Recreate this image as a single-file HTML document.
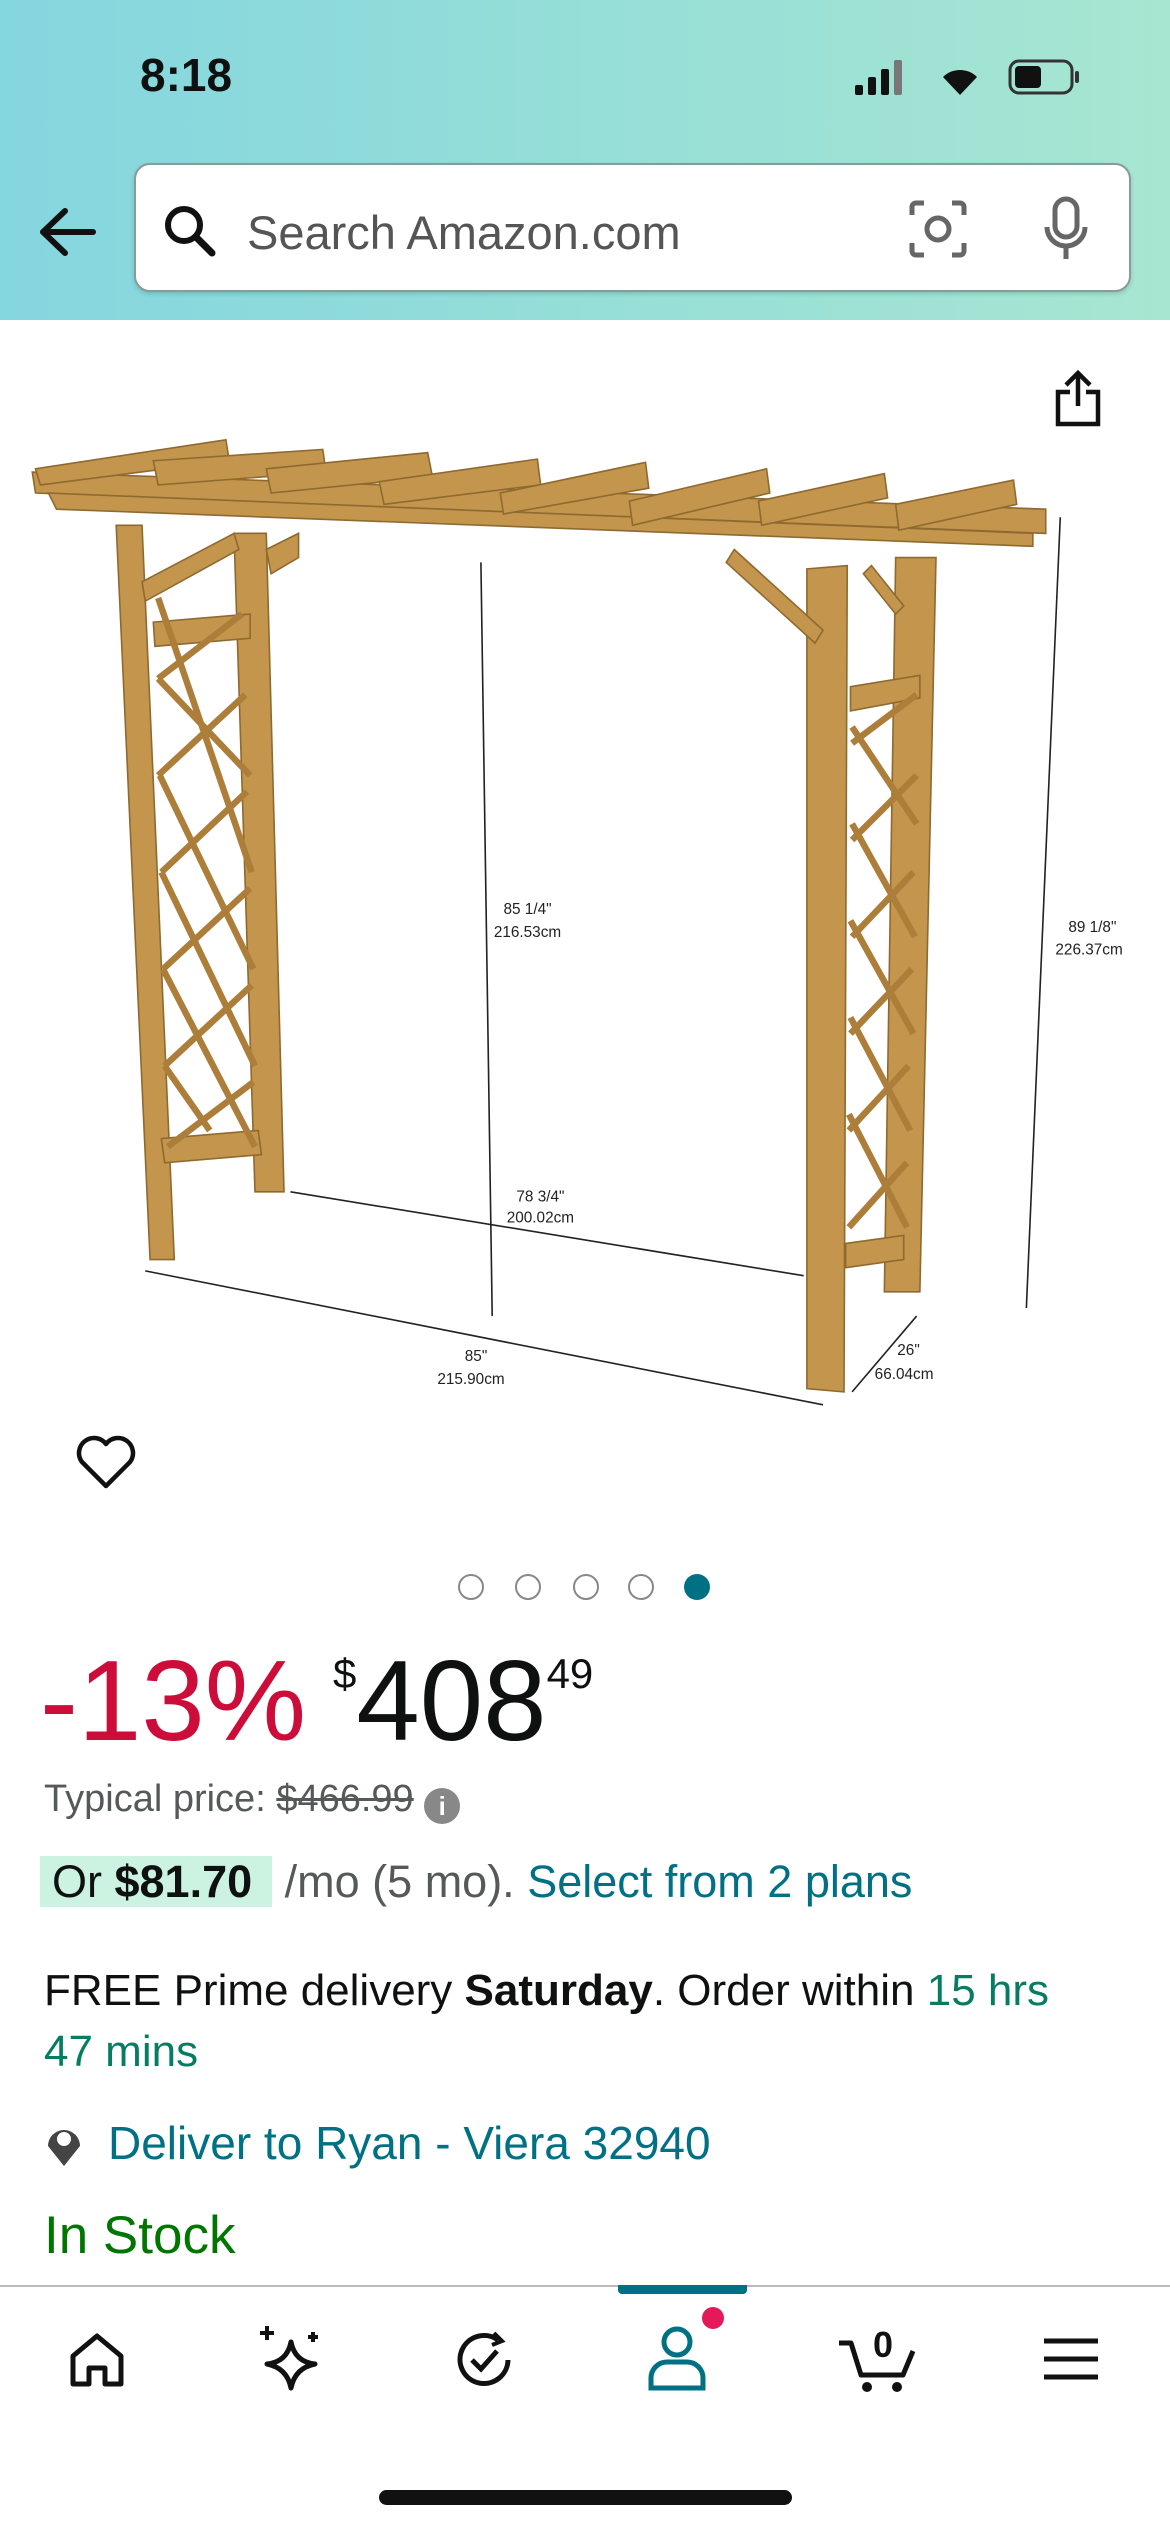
<!DOCTYPE html>
<html><head><meta charset="utf-8"><style>
*{margin:0;padding:0;box-sizing:border-box}
body{width:1170px;height:2532px;position:relative;overflow:hidden;background:#fff;font-family:"Liberation Sans",sans-serif;color:#0f1111}
.a{position:absolute}
.teal{color:#007185}
</style></head><body>
<div class="a" style="left:0;top:0;width:1170px;height:320px;background:linear-gradient(90deg,#84d6df,#a7e6d1)"></div>
<div class="a" style="left:140px;top:48px;font-size:46px;font-weight:bold">8:18</div>
<svg class="a" style="left:850px;top:55px" width="250" height="45" viewBox="0 0 250 45">
<rect x="5" y="30" width="8" height="10" rx="2" fill="#111"/><rect x="18" y="22" width="8" height="18" rx="2" fill="#111"/><rect x="31" y="14" width="8" height="26" rx="2" fill="#111"/><rect x="44" y="5" width="8" height="35" rx="2" fill="#777"/>
<path d="M110 40 L93 22 A24 24 0 0 1 127 22 Z" fill="#111"/>
<rect x="160" y="6" width="62" height="32" rx="9" fill="none" stroke="#333" stroke-width="3"/><rect x="165" y="11" width="26" height="22" rx="4" fill="#111"/><rect x="225" y="16" width="4" height="12" rx="2" fill="#333"/>
</svg>
<svg class="a" style="left:35px;top:205px" width="65" height="55"><path d="M8 27 H58 M8 27 L30 6 M8 27 L30 48" stroke="#111" stroke-width="6" fill="none" stroke-linecap="round"/></svg>
<div class="a" style="left:134px;top:163px;width:997px;height:129px;background:#fff;border-radius:16px;border:2px solid #8a9a9a;box-shadow:0 2px 4px rgba(0,0,0,.15)">
<svg class="a" style="left:24px;top:36px" width="60" height="60"><circle cx="24" cy="24" r="16" stroke="#111" stroke-width="6" fill="none"/><path d="M36 36 L52 52" stroke="#111" stroke-width="7" stroke-linecap="round"/></svg>
<div class="a" style="left:111px;top:40px;font-size:47px;color:#555">Search Amazon.com</div>
<svg class="a" style="left:770px;top:32px" width="64" height="64"><path d="M6 18V10a4 4 0 0 1 4-4h8 M46 6h8a4 4 0 0 1 4 4v8 M58 46v8a4 4 0 0 1-4 4h-8 M18 58h-8a4 4 0 0 1-4-4v-8" stroke="#666" stroke-width="5" fill="none"/><circle cx="32" cy="32" r="11" stroke="#666" stroke-width="5" fill="none"/></svg>
<svg class="a" style="left:905px;top:30px" width="50" height="70"><rect x="14" y="4" width="22" height="38" rx="11" stroke="#666" stroke-width="5" fill="none"/><path d="M6 32a19 19 0 0 0 38 0 M25 52v12" stroke="#666" stroke-width="5" fill="none"/></svg>
</div>
<svg class="a" style="left:0;top:320px" width="1170" height="1090" viewBox="0 198 725 675">
<g fill="#c4954c" stroke="#8f6a30" stroke-width="1">
<polygon points="72,325 88,325 108,780 93,780"/>
<polygon points="145,330 165,330 176,738 158,738"/>
<polygon points="500,352 525,350 523,862 500,860"/>
<polygon points="555,345 580,345 570,800 548,800"/>
<polygon points="20,292 648,315 648,330 22,305"/>
<polygon points="30,305 640,330 640,338 35,315"/>
<polygon points="95,385 155,380 155,395 96,400"/><polygon points="100,705 160,700 162,715 102,720"/>
<polygon points="527,425 570,418 570,432 527,440"/><polygon points="524,770 560,765 560,780 524,785"/>
<polygon points="88,360 145,330 148,340 90,372"/><polygon points="165,340 185,330 185,345 168,355"/>
<polygon points="455,340 510,390 505,398 450,348"/><polygon points="540,350 560,375 555,380 535,355"/>
<g><polygon points="22,290 140,272 142,285 25,300"/><polygon points="95,285 200,278 202,292 98,300"/><polygon points="165,290 265,280 268,295 168,305"/><polygon points="235,298 333,284 335,300 238,312"/><polygon points="310,305 400,286 402,302 312,318"/><polygon points="390,310 475,290 477,305 392,325"/><polygon points="470,310 548,293 550,308 472,325"/><polygon points="555,312 628,297 630,312 557,328"/></g>
</g>
<g stroke="#ad7e3a" stroke-width="4" fill="none">
<path d="M98 420 L150 380 M98 480 L152 430 M100 540 L153 490 M101 600 L155 550 M102 660 L156 610 M104 710 L157 670 M98 420 L155 480 M98 370 L156 540 M99 480 L157 600 M100 540 L158 660 M101 600 L158 710 M102 660 L130 700"/>
<path d="M528 460 L568 430 M528 520 L568 480 M528 580 L566 540 M527 640 L565 600 M526 700 L563 660 M526 760 L562 720 M528 450 L568 510 M528 510 L567 580 M527 570 L566 640 M527 630 L564 700 M526 690 L562 760"/>
</g>
<g stroke="#222" stroke-width="1" fill="#222" font-family="Liberation Sans" font-size="9.5">
<line x1="298" y1="348" x2="305" y2="815"/><line x1="180" y1="738" x2="498" y2="790"/><line x1="90" y1="787" x2="510" y2="870"/><line x1="657" y1="320" x2="636" y2="810"/><line x1="528" y1="862" x2="568" y2="815"/>
<text x="312" y="566" stroke="none">85 1/4"</text><text x="306" y="580" stroke="none">216.53cm</text>
<text x="320" y="744" stroke="none">78 3/4"</text><text x="314" y="757" stroke="none">200.02cm</text>
<text x="288" y="843" stroke="none">85"</text><text x="271" y="857" stroke="none">215.90cm</text>
<text x="662" y="577" stroke="none">89 1/8"</text><text x="654" y="591" stroke="none">226.37cm</text>
<text x="556" y="839" stroke="none">26"</text><text x="542" y="854" stroke="none">66.04cm</text>
</g>
</svg>
<svg class="a" style="left:1052px;top:368px" width="52" height="62"><path d="M26 38V6 M14 17 L26 5 L38 17 M18 24H6v32h40V24H34" stroke="#111" stroke-width="4.5" fill="none"/></svg>
<svg class="a" style="left:74px;top:1432px" width="64" height="60"><path d="M32 54 L8 30 A13 13 0 0 1 32 12 A13 13 0 0 1 56 30 Z" stroke="#111" stroke-width="4.5" fill="none" stroke-linejoin="round"/></svg>
<div>
<div class="a" style="left:458px;top:1574px;width:26px;height:26px;border:2.5px solid #888;border-radius:50%"></div>
<div class="a" style="left:515px;top:1574px;width:26px;height:26px;border:2.5px solid #888;border-radius:50%"></div>
<div class="a" style="left:573px;top:1574px;width:26px;height:26px;border:2.5px solid #888;border-radius:50%"></div>
<div class="a" style="left:628px;top:1574px;width:26px;height:26px;border:2.5px solid #888;border-radius:50%"></div>
<div class="a" style="left:684px;top:1574px;width:26px;height:26px;background:#007185;border-radius:50%"></div>
</div>
<div class="a" style="left:40px;top:1636px;font-size:114px;color:#cc0c39;font-weight:300">-13%</div>
<div class="a" style="left:333px;top:1636px;font-size:114px;white-space:nowrap"><span style="font-size:42px;vertical-align:52px">$</span>408<span style="font-size:42px;vertical-align:52px">49</span></div>
<div class="a" style="left:44px;top:1778px;font-size:38px;color:#565959">Typical price: <s>$466.99</s> <span style="display:inline-block;width:36px;height:36px;border-radius:50%;background:#888;color:#fff;font-size:26px;text-align:center;line-height:36px;font-weight:bold;vertical-align:-4px">i</span></div>
<div class="a" style="left:40px;top:1856px;font-size:45px;white-space:nowrap"><span style="background:#ccf2e2;padding:0 20px 0 12px">Or <b>$81.70</b></span> <span style="color:#565959">/mo (5 mo).</span> <span class="teal">Select from 2 plans</span></div>
<div class="a" style="left:44px;top:1960px;width:1045px;font-size:44px;line-height:61px">FREE Prime delivery <b>Saturday</b>. Order within <span style="color:#067d62">15 hrs 47 mins</span></div>
<svg class="a" style="left:42px;top:2120px" width="44" height="50"><path d="M22 46 L6 26 A16 16 0 1 1 38 26 Z" fill="#444"/><circle cx="22" cy="19" r="7" fill="#fff"/></svg>
<div class="a teal" style="left:108px;top:2116px;font-size:46px">Deliver to Ryan - Viera 32940</div>
<div class="a" style="left:44px;top:2205px;font-size:53px;color:#007600">In Stock</div>
<div class="a" style="left:0;top:2285px;width:1170px;height:247px;background:#fff;border-top:2px solid #bbb"></div>
<div class="a" style="left:618px;top:2285px;width:129px;height:9px;background:#007185;border-radius:0 0 4px 4px"></div>
<svg class="a" style="left:67px;top:2330px" width="60" height="60"><path d="M6 26 L30 6 L54 26 V54 H38 V38 H22 V54 H6 Z" stroke="#111" stroke-width="5" fill="none" stroke-linejoin="round"/></svg>
<svg class="a" style="left:255px;top:2320px" width="72" height="72"><path d="M36 22 Q40 42 60 44 Q40 48 36 68 Q32 48 12 44 Q32 42 36 22 Z" stroke="#111" stroke-width="5" fill="none" stroke-linejoin="round"/><path d="M12 6v14 M5 13h14 M58 12v10 M53 17h10" stroke="#111" stroke-width="4"/></svg>
<svg class="a" style="left:450px;top:2325px" width="70" height="70"><path d="M58 35 A24 24 0 1 1 48 15" stroke="#111" stroke-width="5" fill="none"/><path d="M44 8 L52 16 L42 20" stroke="#111" stroke-width="4" fill="none"/><path d="M22 35 L31 44 L47 26" stroke="#111" stroke-width="5" fill="none"/></svg>
<svg class="a" style="left:645px;top:2300px" width="80" height="95"><circle cx="32" cy="42" r="13" stroke="#007185" stroke-width="5" fill="none"/><path d="M6 88 V78 A16 16 0 0 1 22 62 H42 A16 16 0 0 1 58 78 V88 Z" stroke="#007185" stroke-width="5" fill="none"/><circle cx="68" cy="18" r="11" fill="#e3195a"/></svg>
<svg class="a" style="left:835px;top:2315px" width="90" height="80"><path d="M4 28 H16 L26 60 H68 L78 36" stroke="#111" stroke-width="5" fill="none" stroke-linejoin="round"/><circle cx="32" cy="72" r="5" fill="#111"/><circle cx="62" cy="72" r="5" fill="#111"/><text x="38" y="42" font-family="Liberation Sans" font-size="36" font-weight="bold" fill="#111">0</text></svg>
<svg class="a" style="left:1042px;top:2335px" width="58" height="48"><path d="M2 6H56 M2 24H56 M2 42H56" stroke="#111" stroke-width="5"/></svg>
<div class="a" style="left:379px;top:2490px;width:413px;height:15px;background:#111;border-radius:8px"></div>
</body></html>
